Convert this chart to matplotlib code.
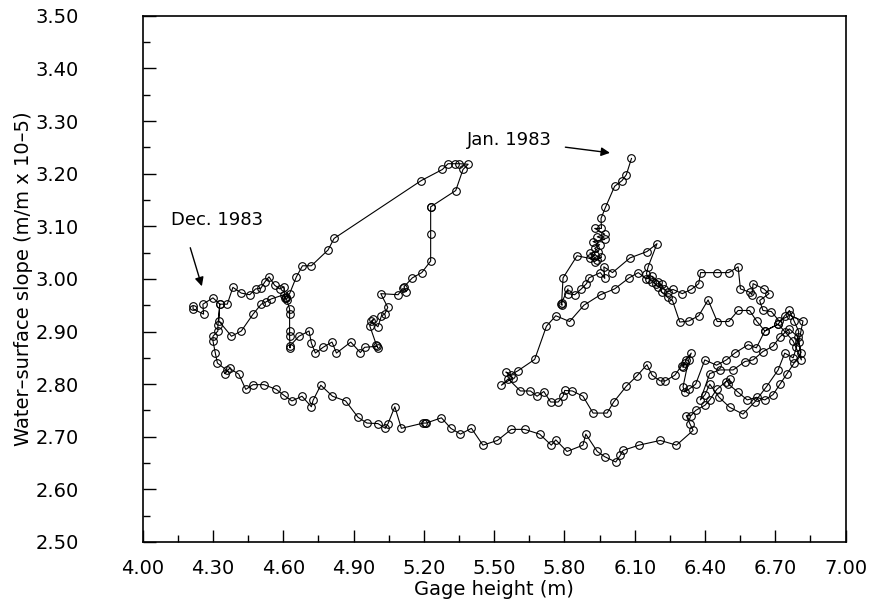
import matplotlib.pyplot as plt
from matplotlib.ticker import FixedLocator, MultipleLocator, FormatStrFormatter

# Gage height (m), in the order of the record (Jan. 1983 -> Dec. 1983)
gage = [
    # Jan. descent
    6.086, 6.064, 6.046, 6.014, 5.975, 5.956, 5.958, 5.929, 5.972, 5.940, 5.972, 5.922,
    5.950, 5.929, 5.945, 5.908, 5.930, 5.908, 5.929, 5.958, 5.940, 5.854, 5.794, 5.788,
    5.790, 5.785, 5.815, 5.815, 5.844, 5.872, 5.894, 5.905, 5.953, 5.972, 5.968, 6.005,
    6.080, 6.152, 6.195, 6.157, 6.150, 6.160, 6.175, 6.190, 6.200, 6.215, 6.225, 6.240,
    # upper right
    6.263, 6.303, 6.341, 6.373, 6.381, 6.452, 6.501, 6.541, 6.551, 6.590, 6.600, 6.605,
    6.651, 6.673, 6.633, 6.647, 6.683, 6.716, 6.761, 6.818, 6.800, 6.811, 6.776, 6.740,
    6.712, 6.655, 6.620, 6.590, 6.541, 6.501, 6.452, 6.413, 6.373, 6.331, 6.292, 6.261,
    6.240, 6.215, 6.200, 6.175, 6.150, 6.115, 6.076,
    # back to the left, then along 2.78
    6.014, 5.954, 5.883, 5.822, 5.763, 5.723, 5.673, 5.600, 5.570, 5.550, 5.580, 5.531,
    5.560, 5.612, 5.655, 5.683, 5.712, 5.741, 5.773, 5.794, 5.801, 5.834, 5.879, 5.922,
    5.982, 6.010, 6.064, 6.110, 6.152, 6.174, 6.209, 6.230, 6.271, 6.300, 6.313, 6.306,
    6.318, 6.341, 6.330, 6.306, 6.313, 6.330, 6.360,
    # loops on the right
    6.399, 6.449, 6.491, 6.527, 6.584, 6.619, 6.655, 6.712, 6.740, 6.760, 6.780, 6.800,
    6.790, 6.776, 6.740, 6.712, 6.662, 6.612, 6.562, 6.505, 6.460, 6.420, 6.400, 6.380,
    6.420, 6.463, 6.520, 6.570, 6.605, 6.647, 6.690, 6.720, 6.760, 6.795, 6.810, 6.780,
    6.750, 6.720, 6.690, 6.655, 6.620, 6.580, 6.540, 6.500, 6.505, 6.490, 6.450, 6.420,
    6.400, 6.360, 6.340, 6.320, 6.335, 6.349,
    # bottom path to the left
    6.278, 6.209, 6.118, 6.050, 6.039, 6.019, 5.972, 5.940, 5.891, 5.879, 5.811, 5.763,
    5.744, 5.694, 5.630, 5.573, 5.514, 5.452, 5.403, 5.356, 5.315, 5.275, 5.210, 5.204,
    5.198, 5.104, 5.076, 5.047, 5.036, 5.004, 4.957, 4.919, 4.866, 4.810, 4.760, 4.727,
    4.720, 4.680, 4.637, 4.602, 4.570, 4.518, 4.471, 4.440, 4.410, 4.371, 4.350, 4.360,
    4.319, 4.310, 4.300, 4.300, 4.321, 4.321, 4.329, 4.325,
    # middle path and first loop
    4.379, 4.421, 4.471, 4.506, 4.525, 4.549, 4.603, 4.610, 4.615, 4.627, 4.627, 4.627,
    4.627, 4.629, 4.627, 4.667, 4.710, 4.720, 4.737, 4.770, 4.808, 4.827, 4.888, 4.929,
    4.947, 5.000, 5.004, 4.997, 4.969, 4.985, 4.976, 5.004, 5.019, 5.033, 5.046, 5.016,
    5.090, 5.111, 5.125, 5.115, 5.151, 5.191, 5.229, 5.229, 5.229, 5.229, 5.336, 5.367,
    5.389, 5.350, 5.332, 5.303, 5.279, 5.189, 4.817, 4.791, 4.720, 4.682, 4.656, 4.627,
    4.610, 4.606,
    # top row to Dec. 1983
    4.603, 4.585, 4.563, 4.539, 4.521, 4.504, 4.482, 4.457, 4.421, 4.385, 4.361, 4.329,
    4.300, 4.257, 4.260, 4.215, 4.215,
]

# Water-surface slope (m/m x 10-5)
slope = [
    3.229, 3.198, 3.187, 3.176, 3.136, 3.115, 3.096, 3.096, 3.085, 3.080, 3.075, 3.071,
    3.065, 3.058, 3.052, 3.049, 3.045, 3.039, 3.033, 3.042, 3.036, 3.044, 3.002, 2.955,
    2.950, 2.952, 2.981, 2.972, 2.970, 2.981, 2.991, 3.002, 3.012, 3.001, 3.023, 3.012,
    3.040, 3.052, 3.067, 3.023, 3.010, 3.000, 2.995, 2.990, 2.985, 2.990, 2.980, 2.975,
    2.980, 2.972, 2.980, 2.991, 3.012, 3.012, 3.012, 3.023, 2.981, 2.975, 2.970, 2.991,
    2.981, 2.972, 2.959, 2.940, 2.938, 2.920, 2.931, 2.920, 2.880, 2.846, 2.882, 2.900,
    2.914, 2.901, 2.920, 2.940, 2.940, 2.919, 2.919, 2.960, 2.930, 2.920, 2.918, 2.959,
    2.965, 2.975, 2.995, 3.005, 3.000, 3.012, 3.002,
    2.981, 2.970, 2.950, 2.919, 2.930, 2.910, 2.847, 2.825, 2.818, 2.823, 2.812, 2.798,
    2.810, 2.787, 2.787, 2.777, 2.786, 2.766, 2.766, 2.777, 2.788, 2.787, 2.777, 2.745,
    2.745, 2.766, 2.796, 2.816, 2.837, 2.817, 2.806, 2.806, 2.817, 2.835, 2.840, 2.832,
    2.845, 2.859, 2.846, 2.795, 2.785, 2.790, 2.800,
    2.846, 2.836, 2.846, 2.859, 2.875, 2.869, 2.901, 2.914, 2.930, 2.940, 2.920, 2.900,
    2.870, 2.850, 2.859, 2.827, 2.795, 2.766, 2.743, 2.756, 2.775, 2.800, 2.780, 2.770,
    2.820, 2.827, 2.827, 2.843, 2.846, 2.862, 2.872, 2.890, 2.905, 2.890, 2.860, 2.840,
    2.820, 2.800, 2.780, 2.770, 2.775, 2.770, 2.785, 2.800, 2.810, 2.805, 2.790, 2.770,
    2.760, 2.750, 2.740, 2.740, 2.725, 2.712,
    2.684, 2.693, 2.684, 2.674, 2.665, 2.652, 2.662, 2.672, 2.705, 2.684, 2.672, 2.694,
    2.684, 2.705, 2.714, 2.714, 2.693, 2.684, 2.716, 2.705, 2.716, 2.736, 2.726, 2.726,
    2.726, 2.716, 2.757, 2.725, 2.716, 2.725, 2.726, 2.737, 2.768, 2.777, 2.798, 2.769,
    2.757, 2.777, 2.768, 2.779, 2.790, 2.799, 2.799, 2.790, 2.819, 2.830, 2.820, 2.826,
    2.840, 2.859, 2.882, 2.891, 2.901, 2.912, 2.952, 2.920,
    2.891, 2.901, 2.933, 2.952, 2.956, 2.962, 2.970, 2.963, 2.960, 2.943, 2.933, 2.901,
    2.891, 2.869, 2.872, 2.891, 2.901, 2.878, 2.859, 2.870, 2.880, 2.859, 2.880, 2.860,
    2.870, 2.872, 2.869, 2.875, 2.911, 2.923, 2.920, 2.909, 2.930, 2.933, 2.946, 2.972,
    2.970, 2.982, 2.976, 2.985, 3.002, 3.012, 3.034, 3.085, 3.137, 3.137, 3.168, 3.208,
    3.218, 3.219, 3.219, 3.219, 3.208, 3.187, 3.077, 3.055, 3.025, 3.025, 3.004, 2.972,
    2.966, 2.963,
    2.985, 2.981, 2.988, 3.004, 2.994, 2.982, 2.981, 2.970, 2.973, 2.984, 2.952, 2.952,
    2.964, 2.952, 2.933, 2.943, 2.949,
]

x_ticks = [4.00, 4.30, 4.60, 4.90, 5.20, 5.50, 5.80, 6.10, 6.40, 6.70, 7.00]
x_minor = [4.15, 4.45, 4.75, 5.05, 5.35, 5.65, 5.95, 6.25, 6.55, 6.85]

plt.rcParams['font.family'] = ['DejaVu Sans']
fig = plt.figure(figsize=(8.7, 6.11), dpi=100)
ax = fig.add_axes([0.164, 0.113, 0.808, 0.861])

ax.plot(gage, slope, '-', color='black', linewidth=0.8,
        marker='o', markersize=5.5, markerfacecolor='none',
        markeredgecolor='black', markeredgewidth=0.8)

# annotations
ax.annotate('Jan. 1983', xy=(6.006, 3.239), xytext=(5.745, 3.264),
            fontsize=13, ha='right', va='center',
            arrowprops=dict(arrowstyle='-|>', color='black', lw=1, shrinkA=8))
ax.annotate('Dec. 1983', xy=(4.256, 2.981), xytext=(4.12, 3.112),
            fontsize=13, ha='left', va='center',
            arrowprops=dict(arrowstyle='-|>', color='black', lw=1,
                            relpos=(0.15, 0), shrinkA=12))

ax.set_xlim(4.0, 7.0)
ax.set_ylim(2.5, 3.5)
ax.xaxis.set_major_locator(FixedLocator(x_ticks))
ax.xaxis.set_minor_locator(FixedLocator(x_minor))
ax.yaxis.set_major_locator(MultipleLocator(0.1))
ax.yaxis.set_minor_locator(MultipleLocator(0.05))
ax.xaxis.set_major_formatter(FormatStrFormatter('%.2f'))
ax.yaxis.set_major_formatter(FormatStrFormatter('%.2f'))
ax.tick_params(which='both', direction='in', top=False, right=False, labelsize=14)
ax.tick_params(which='major', length=9, width=1)
ax.tick_params(which='minor', length=5, width=1)
ax.tick_params(axis='x', pad=12)
ax.tick_params(axis='y', pad=46)
for s in ax.spines.values():
    s.set_linewidth(1.2)

ax.set_xlabel('Gage height (m)', fontsize=14, labelpad=2)
ax.set_ylabel('Water–surface slope (m/m x 10–5)', fontsize=14, labelpad=2)

fig.savefig('out.png', dpi=100)
